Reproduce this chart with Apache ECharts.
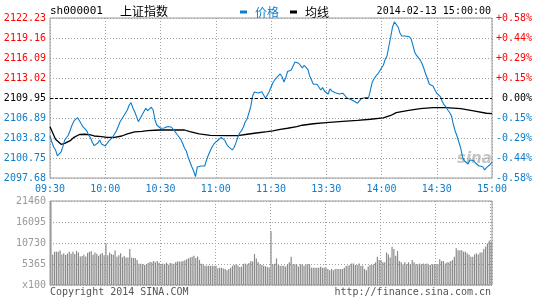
<!DOCTYPE html>
<html>
<head>
<meta charset="utf-8">
<script src="https://cdn.jsdelivr.net/npm/echarts@6/dist/echarts.min.js"></script>
<style>
html,body{margin:0;padding:0;background:#fff;}
#c{width:545px;height:300px;}
</style>
</head>
<body>
<div id="c"></div>
<script>
// ---------- data ----------
const PRE_CLOSE = 2109.95;
const Y_STEP = 3.06875;
const priceTicks = ['2097.68','2100.75','2103.82','2106.89','2109.95','2113.02','2116.09','2119.16','2122.23'];
const pctTicks = ['-0.58%','-0.44%','-0.29%','-0.15%','0.00%','+0.15%','+0.29%','+0.44%','+0.58%'];
const timeTicks = ['09:30','10:00','10:30','11:00','11:30','13:30','14:00','14:30','15:00'];
const volTicks = ['x100','5365','10730','16095','21460'];
const VOL_MAX = 21460;
const VOL_STEP = 5365;

// minute-by-minute index price (241 minutes)
const PRICE = [
2104.12,2103.20,2102.44,2101.98,2101.06,2100.86,2101.67,2102.48,2103.51,2103.89,
2104.28,2105.04,2105.81,2106.43,2106.73,2106.93,2106.47,2105.97,2105.51,2105.20,
2104.89,2104.28,2103.82,2103.13,2102.64,2102.74,2103.05,2103.51,2102.90,2102.74,
2102.59,2102.39,2103.36,2103.25,2103.92,2104.43,2104.89,2105.55,2106.27,2106.73,
2107.19,2107.27,2108.11,2108.88,2109.23,2108.42,2107.85,2107.65,2106.32,2106.84,
2107.35,2107.09,2108.37,2108.01,2108.22,2108.53,2108.11,2106.58,2105.81,2105.55,
2105.31,2105.20,2105.35,2105.46,2105.58,2105.70,2105.46,2105.31,2104.74,2104.35,
2104.05,2103.62,2103.00,2102.28,2101.82,2100.90,2100.14,2099.41,2098.75,2097.88,
2099.37,2099.17,2099.52,2099.37,2099.52,2100.44,2101.21,2101.21,2102.44,2102.90,
2103.13,2103.43,2103.62,2103.92,2103.62,2103.40,2102.82,2102.44,2102.21,2101.98,
2102.39,2103.10,2103.97,2104.58,2104.94,2105.51,2106.27,2106.73,2107.65,2108.62,
2110.26,2110.88,2110.80,2110.72,2110.68,2110.92,2110.42,2109.91,2110.42,2110.92,
2111.60,2112.30,2112.72,2113.07,2113.18,2113.64,2113.22,2112.41,2113.07,2114.02,
2113.84,2114.25,2114.87,2115.48,2115.37,2115.28,2115.28,2114.56,2114.97,2114.87,
2114.36,2113.33,2112.72,2112.06,2112.06,2112.06,2112.06,2111.18,2111.54,2111.03,
2110.77,2110.57,2111.34,2111.03,2110.83,2110.77,2110.68,2110.57,2110.52,2110.68,
2110.37,2110.00,2109.85,2109.76,2109.65,2109.50,2109.23,2109.14,2109.50,2109.85,
2110.00,2110.00,2110.00,2110.00,2111.18,2112.41,2112.92,2113.33,2113.64,2114.10,
2114.56,2114.97,2115.89,2116.40,2117.93,2119.31,2120.85,2121.62,2121.69,2120.85,
2119.93,2119.47,2119.73,2119.47,2119.58,2119.36,2119.05,2118.09,2117.01,2116.48,
2116.25,2115.79,2115.25,2114.48,2113.64,2112.87,2112.06,2112.06,2111.80,2111.18,
2110.68,2110.42,2110.15,2109.42,2108.88,2108.57,2108.11,2107.73,2107.19,2105.92,
2104.89,2104.12,2103.20,2102.28,2100.90,2100.29,2100.55,2099.83,2100.44,2100.14,
2100.37,2099.98,2099.75,2099.52,2099.78,2099.41,2098.91,2099.26,2099.41,2099.75,
2100.14
];

// average price line: [minute, value]
const AVG = [
[0,2105.55],[3,2103.62],[6,2102.85],[8,2103.00],[11,2103.40],[13,2103.92],[16,2104.35],
[19,2104.39],[22,2104.28],[24,2104.12],[28,2104.02],[31,2103.92],[35,2103.92],[39,2104.12],
[42,2104.43],[46,2104.74],[50,2104.84],[53,2104.94],[57,2105.00],[60,2105.04],[67,2105.04],
[73,2105.04],[76,2104.78],[81,2104.43],[87,2104.23],[96,2104.17],[102,2104.17],[107,2104.39],
[112,2104.58],[118,2104.78],[121,2104.89],[125,2105.15],[129,2105.31],[134,2105.55],
[137,2105.77],[143,2106.00],[150,2106.17],[157,2106.32],[167,2106.53],[174,2106.69],
[181,2106.89],[185,2107.27],[188,2107.70],[194,2108.01],[201,2108.31],[208,2108.47],
[215,2108.47],[223,2108.31],[230,2107.96],[237,2107.61],[240,2107.55]
];

// volume per minute (x100 shares)
const VOL = [
21460,7800,8500,8500,8500,8800,7800,8100,7700,8000,8500,8000,8500,7900,8700,8300,7300,7400,7700,7300,
8200,8500,8600,7700,8300,8000,7500,7900,8200,7600,10600,
7600,8300,7900,7700,8800,7200,7600,8100,7100,7400,7000,7000,9200,7000,6900,6900,6400,5400,5400,5300,
5100,5300,5600,5900,5800,6100,5800,6100,5700,5300,
5500,5300,5700,5200,5600,5500,5400,5800,6000,6000,6000,6100,6300,6600,6800,7000,7200,7500,6900,7300,
6400,5400,5300,4900,4900,4900,4900,4900,4900,4900,
4300,4400,4400,4200,4100,3800,4100,4400,4900,5100,5300,5000,4600,4700,5400,5500,5300,5600,6100,6000,
7900,6800,5900,5300,5100,4900,4800,4600,4500,13700,
5300,5400,6800,5100,4900,4900,4900,4700,5300,5800,7200,5300,5300,5300,4700,5300,5300,4900,5300,5300,
5300,4400,4400,4400,4400,4400,4700,4400,4400,4400,4100,3800,4100,3800,4100,4100,4100,4100,4100,4400,
4900,4900,5100,5500,5500,5100,5100,5500,4900,4900,4100,3800,4700,5100,5100,5300,5800,7200,6400,6400,
5800,5800,8300,7800,7000,9800,9200,7500,8700,6100,5800,5300,5800,5300,5800,5300,6400,5800,5300,5300,
5500,5300,5500,5300,5500,5100,5100,5300,5300,5300,5300,6600,6100,6100,5500,5800,5800,6100,6400,7200,
9400,8900,8900,8900,8500,8500,8100,7700,7200,7200,7800,8100,7800,8300,8300,9200,9800,10600,11300,11100
];

// ---------- chart ----------
const BLUE = '#0b7dcc';
const RED = '#ff0000';
const MONO = 'DejaVu Sans Mono';
const GRIDC = '#a0a0a0';
const chart = echarts.init(document.getElementById('c'), null, {renderer: 'canvas'});

function levelIdx(v){ return Math.round(v / Y_STEP) + 4; }
function richFmt(arr){
  return function(v){
    const i = levelIdx(v);
    const key = i > 4 ? 'r' : (i < 4 ? 'b' : 'k');
    return '{' + key + '|' + arr[i] + '}';
  };
}
const rich = {
  r: {color: RED, fontFamily: MONO, fontSize: 10},
  b: {color: BLUE, fontFamily: MONO, fontSize: 10},
  k: {color: '#000', fontFamily: MONO, fontSize: 10}
};

const option = {
  animation: false,
  backgroundColor: '#fff',
  legend: {
    left: 240, top: 6, padding: 0, itemWidth: 7, itemHeight: 3, itemGap: 11, icon: 'rect',
    textStyle: {fontSize: 12, fontFamily: 'Noto Sans CJK SC', padding: [0, 0, 0, 3]},
    data: [{name: '价格', textStyle: {color: BLUE}}, {name: '均线', textStyle: {color: '#000'}}]
  },
  grid: [
    {left: 50, top: 18, width: 442, height: 160, show: true, borderColor: '#9a9a9a', borderWidth: 1, containLabel: false},
    {left: 50, top: 201, width: 442, height: 84, show: true, borderColor: '#9a9a9a', borderWidth: 1, containLabel: false}
  ],
  xAxis: [
    {
      type: 'value', gridIndex: 0, min: 0, max: 240, interval: 30,
      axisLine: {show: false}, axisTick: {show: false},
      axisLabel: {
        color: BLUE, fontFamily: MONO, fontSize: 10, margin: 6, hideOverlap: false,
        showMinLabel: true, showMaxLabel: true,
        formatter: v => timeTicks[Math.round(v / 30)]
      },
      splitLine: {show: true, lineStyle: {color: GRIDC, type: [1, 2], width: 1}}
    },
    {
      type: 'value', gridIndex: 1, min: -0.5, max: 240.5, interval: 30,
      axisLine: {show: false}, axisTick: {show: false}, axisLabel: {show: false},
      splitLine: {show: true, lineStyle: {color: GRIDC, type: [1, 2], width: 1}}
    }
  ],
  yAxis: [
    {
      type: 'value', gridIndex: 0, min: -4 * Y_STEP, max: 4 * Y_STEP, interval: Y_STEP,
      axisLine: {show: false}, axisTick: {show: false},
      axisLabel: {margin: 4, formatter: richFmt(priceTicks), rich: rich, showMinLabel: true, showMaxLabel: true},
      splitLine: {show: true, lineStyle: {color: GRIDC, type: [1, 2], width: 1}}
    },
    {
      type: 'value', gridIndex: 0, position: 'right', min: -4 * Y_STEP, max: 4 * Y_STEP, interval: Y_STEP,
      axisLine: {show: false}, axisTick: {show: false},
      axisLabel: {margin: 40, align: 'right', formatter: richFmt(pctTicks), rich: rich, showMinLabel: true, showMaxLabel: true},
      splitLine: {show: false}
    },
    {
      type: 'value', gridIndex: 1, min: 0, max: VOL_MAX, interval: VOL_STEP,
      axisLine: {show: false}, axisTick: {show: false},
      axisLabel: {
        margin: 4, color: '#999', fontFamily: MONO, fontSize: 10, showMinLabel: true, showMaxLabel: true,
        formatter: v => volTicks[Math.round(v / VOL_STEP)]
      },
      splitLine: {show: true, lineStyle: {color: GRIDC, type: [1, 2], width: 1}}
    }
  ],
  series: [
    {
      name: '价格', type: 'line', xAxisIndex: 0, yAxisIndex: 0,
      data: PRICE.map((p, i) => [i, +(p - PRE_CLOSE).toFixed(3)]),
      showSymbol: false, symbol: 'none', color: BLUE,
      lineStyle: {color: BLUE, width: 1.1},
      markLine: {
        silent: true, symbol: 'none', label: {show: false},
        lineStyle: {color: '#000', type: [3, 2], width: 1},
        data: [{yAxis: 0}]
      },
      z: 3
    },
    {
      name: '均线', type: 'line', xAxisIndex: 0, yAxisIndex: 0,
      data: AVG.map(d => [d[0], +(d[1] - PRE_CLOSE).toFixed(3)]),
      showSymbol: false, symbol: 'none', color: '#000',
      lineStyle: {color: '#000', width: 1.3},
      z: 2
    },
    {
      name: '成交量', type: 'bar', xAxisIndex: 1, yAxisIndex: 2,
      data: VOL.map((v, i) => [i, v]),
      barWidth: 1.2, itemStyle: {color: '#8a8a8a'}
    }
  ],
  graphic: [
    {type: 'text', left: 50, top: 6, style: {text: 'sh000001', font: '11px "DejaVu Sans Mono"', fill: '#000'}},
    {type: 'text', left: 120, top: 5, style: {text: '上证指数', font: '12px "Noto Sans CJK SC"', fill: '#000'}},
    {type: 'text', right: 54, top: 6, style: {text: '2014-02-13 15:00:00', font: '10px "DejaVu Sans Mono"', fill: '#000'}},
    {type: 'text', left: 457, top: 152, style: {text: 'sina', font: 'italic bold 15px "DejaVu Sans"', fill: 'rgba(150,150,150,0.55)'}},
    {type: 'text', left: 50, top: 287, style: {text: 'Copyright 2014 SINA.COM', font: '10px "DejaVu Sans Mono"', fill: '#555'}},
    {type: 'text', right: 54, top: 287, style: {text: 'http://finance.sina.com.cn', font: '10px "DejaVu Sans Mono"', fill: '#555'}}
  ]
};
chart.setOption(option);
</script>
</body>
</html>
